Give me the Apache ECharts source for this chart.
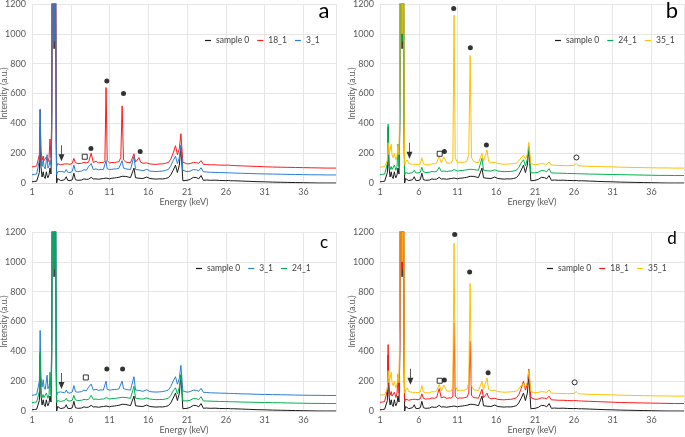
<!DOCTYPE html>
<html>
<head>
<meta charset="utf-8">
<script src="https://cdn.jsdelivr.net/npm/echarts@6/dist/echarts.min.js"></script>
<style>
html, body { margin: 0; padding: 0; background: #fff; }
#chart { width: 685px; height: 437px; }
</style>
</head>
<body>
<div id="chart"></div>
<script>
// energy grid (keV), shared by all spectra
const energy = [1.0, 1.3, 1.6, 1.8, 1.95, 2.05, 2.15, 2.3, 2.45, 2.55, 2.7, 2.85, 2.95, 3.05, 3.2, 3.32, 3.45, 3.55, 3.69, 3.85,
  4.01, 4.12, 4.18, 4.3, 4.5, 4.7, 4.95, 5.2, 5.42, 5.6, 5.9, 6.2, 6.4, 6.6, 6.9, 7.1, 7.4, 7.7, 8.0, 8.3,
  8.63, 8.9, 9.25, 9.6, 9.9, 10.2, 10.4, 10.55, 10.7, 11.0, 11.3, 11.6, 11.9, 12.2, 12.45, 12.62, 12.8, 13.1, 13.4, 13.7,
  13.95, 14.15, 14.35, 14.6, 14.8, 15.0, 15.3, 15.8, 16.2, 16.6, 17.0, 17.4, 17.8, 18.2, 18.6, 18.9, 19.2, 19.5, 19.75, 20.0,
  20.2, 20.45, 20.7, 21.0, 21.4, 21.8, 22.2, 22.5, 22.8, 23.1, 23.5, 24.0, 24.6, 25.2, 26.0, 26.3, 26.6, 27.0, 28.0, 29.0,
  30.0, 31.0, 32.0, 33.0, 34.0, 35.0, 36.0, 37.0, 38.0, 39.0, 40.2];

// spectra without the stacking offset
const sample0 = [8, 10, 12, 20, 70, 375, 110, 40, 75, 45, 30, 75, 50, 35, 55, 100, 60, 350, 3000, 900,
  2000, 250, 0, 30, 22, 16, 14, 22, 42, 18, 16, 22, 65, 22, 18, 24, 20, 28, 24, 26,
  38, 27, 28, 25, 28, 30, 29, 33, 30, 28, 32, 33, 36, 38, 42, 45, 42, 44, 40, 36,
  40, 100, 35, 30, 32, 28, 30, 40, 30, 28, 26, 28, 27, 30, 36, 55, 85, 120, 70, 120,
  240, 15, 16, 18, 24, 38, 36, 28, 50, 18, 20, 18, 19, 17, 16, 17, 15, 15, 13, 11,
  9, 8, 6, 5, 4, 3, 2, 1, 0, 0, 0];
const s18_1 = [8, 10, 14, 20, 90, 395, 120, 55, 80, 50, 45, 75, 60, 40, 70, 195, 70, 400, 3000, 900,
  2000, 300, 10, 30, 25, 22, 30, 28, 40, 28, 25, 32, 65, 35, 30, 38, 32, 38, 35, 40,
  100, 38, 45, 35, 38, 36, 50, 540, 50, 34, 38, 36, 40, 42, 70, 417, 55, 40, 38, 36,
  40, 96, 40, 45, 70, 40, 32, 35, 28, 26, 25, 27, 28, 32, 38, 60, 100, 150, 90, 130,
  230, 40, 32, 28, 30, 38, 36, 32, 50, 25, 24, 22, 22, 20, 19, 20, 18, 17, 15, 13,
  11, 9, 7, 6, 5, 4, 3, 2, 1, 0, 0];
const s3_1 = [5, 8, 10, 15, 100, 440, 130, 60, 110, 60, 45, 100, 140, 50, 65, 105, 70, 400, 3000, 900,
  2000, 300, 5, 25, 20, 28, 18, 22, 40, 22, 20, 28, 70, 30, 26, 38, 30, 40, 35, 60,
  80, 40, 45, 38, 42, 40, 48, 100, 45, 40, 42, 44, 45, 48, 52, 100, 50, 45, 42, 40,
  45, 130, 40, 35, 38, 34, 32, 42, 30, 28, 27, 28, 30, 34, 42, 65, 100, 130, 80, 120,
  206, 35, 28, 26, 30, 40, 38, 32, 52, 25, 24, 22, 21, 20, 19, 18, 18, 17, 15, 14,
  12, 11, 10, 9, 8, 7, 6, 5, 5, 4, 4];
const s24_1 = [6, 8, 10, 15, 80, 345, 100, 40, 60, 40, 35, 70, 55, 35, 60, 210, 60, 400, 3000, 900,
  2000, 300, 5, 20, 18, 14, 15, 20, 35, 18, 17, 22, 55, 24, 20, 26, 22, 28, 25, 28,
  55, 28, 30, 27, 30, 30, 32, 40, 32, 30, 33, 34, 36, 38, 40, 42, 40, 40, 38, 35,
  40, 117, 36, 30, 32, 29, 30, 38, 30, 28, 26, 27, 27, 30, 36, 55, 85, 106, 65, 110,
  195, 18, 17, 18, 22, 34, 32, 26, 46, 17, 17, 16, 15, 14, 13, 13, 12, 12, 10, 9,
  8, 7, 6, 5, 4, 3, 2, 1, 1, 0, 0];
const s35_1 = [5, 8, 10, 15, 50, 170, 90, 120, 160, 90, 70, 100, 75, 55, 80, 150, 90, 500, 3000, 900,
  2000, 350, 20, 40, 55, 30, 28, 25, 35, 25, 22, 28, 70, 28, 22, 25, 22, 30, 28, 35,
  78, 35, 75, 35, 32, 35, 60, 1025, 70, 35, 40, 38, 40, 45, 90, 755, 70, 42, 40, 36,
  42, 100, 45, 50, 122, 45, 35, 40, 30, 28, 26, 27, 28, 30, 34, 48, 70, 85, 60, 95,
  172, 30, 25, 22, 25, 30, 28, 25, 42, 20, 19, 18, 17, 16, 18, 30, 16, 14, 12, 10,
  9, 8, 6, 5, 4, 3, 2, 1, 1, 0, 0];

// vertical shift of each spectrum within its panel (same order as the legend)
const offsetsA = [0, 100, 50];
const offsetsB = [0, 50, 100];
const offsetsC = [0, 100, 50];
const offsetsD = [0, 50, 100];

// annotation symbols [keV, intensity]
const dotsA = [[8.6, 231], [10.65, 684], [12.8, 600], [14.95, 211]];
const dotsB = [[10.5, 1170], [12.65, 907], [14.72, 254], [9.3, 211]];
const dotsC = [[10.65, 281], [12.68, 281]];
const dotsD = [[10.63, 1184], [12.56, 932], [14.94, 256], [9.3, 207]];
const squaresA = [[7.8, 176]];
const squaresB = [[8.7, 196]];
const squaresC = [[7.94, 225]];
const squaresD = [[8.7, 203]];
const arrowsA = [[4.8, 200]];
const arrowsB = [[4.8, 217]];
const arrowsC = [[4.8, 201]];
const arrowsD = [[4.92, 230]];
const circlesB = [[26.33, 171]];
const circlesD = [[26.1, 192]];

const spectra = {
  'sample 0': { data: sample0, color: '#1a1a1a' },
  '18_1': { data: s18_1, color: '#ff1a1a' },
  '3_1': { data: s3_1, color: '#2a7fd0' },
  '24_1': { data: s24_1, color: '#00b050' },
  '35_1': { data: s35_1, color: '#ffc000' }
};

const panels = [
  { letter: 'a', letterSize: 22, names: ['sample 0', '18_1', '3_1'], offsets: offsetsA,
    dots: dotsA, squares: squaresA, arrows: arrowsA, circles: [],
    grid: { left: 32, top: 4 }, legendLeft: 205, letterPos: [324, 11] },
  { letter: 'b', letterSize: 22, names: ['sample 0', '24_1', '35_1'], offsets: offsetsB,
    dots: dotsB, squares: squaresB, arrows: arrowsB, circles: circlesB,
    grid: { left: 380, top: 4 }, legendLeft: 555, letterPos: [672, 11] },
  { letter: 'c', letterSize: 17, names: ['sample 0', '3_1', '24_1'], offsets: offsetsC,
    dots: dotsC, squares: squaresC, arrows: arrowsC, circles: [],
    grid: { left: 32, top: 232 }, legendLeft: 196, letterPos: [324, 243] },
  { letter: 'd', letterSize: 17, names: ['sample 0', '18_1', '35_1'], offsets: offsetsD,
    dots: dotsD, squares: squaresD, arrows: arrowsD, circles: circlesD,
    grid: { left: 380, top: 232 }, legendLeft: 547, letterPos: [672, 239] }
];

const FONT = 'Lato, "Liberation Sans", sans-serif';
const arrowPath = 'path://M2.6,0 L3.4,0 L3.4,9 L6,9 L3,16 L0,9 L2.6,9 Z';

let grids = [], xAxes = [], yAxes = [], series = [], legends = [], graphics = [];

panels.forEach(function (p, i) {
  grids.push({ left: p.grid.left, top: p.grid.top, width: 304, height: 179, containLabel: false, outerBoundsMode: 'none' });
  xAxes.push({
    gridIndex: i, type: 'value', min: 1, max: 40.2, interval: 5,
    name: 'Energy (keV)', nameLocation: 'middle', nameGap: 15, nameMoveOverlap: false,
    nameTextStyle: { fontSize: 9, color: '#595959', fontFamily: FONT },
    axisLine: { show: true, lineStyle: { color: '#d9d9d9' } },
    axisTick: { show: false },
    axisLabel: { fontSize: 9, color: '#595959', margin: 5, fontFamily: FONT, showMaxLabel: false },
    splitLine: { show: true, lineStyle: { color: '#e6e6e6', width: 1 } }
  });
  yAxes.push({
    gridIndex: i, type: 'value', min: 0, max: 1200, interval: 200,
    name: 'Intensity (a.u.)', nameLocation: 'middle', nameGap: 23, nameMoveOverlap: false,
    nameTextStyle: { fontSize: 8.5, color: '#595959', fontFamily: FONT },
    axisLine: { show: false }, axisTick: { show: false },
    axisLabel: { fontSize: 9, color: '#595959', margin: 6, fontFamily: FONT,
      formatter: function (v) { return String(v); } },
    splitLine: { show: true, lineStyle: { color: '#e6e6e6', width: 1 } }
  });
  p.names.forEach(function (name, k) {
    const sp = spectra[name];
    const off = p.offsets[k];
    series.push({
      name: name, type: 'line', xAxisIndex: i, yAxisIndex: i,
      showSymbol: false, symbol: 'none', silent: true, clip: true,
      lineStyle: { width: 1, color: sp.color },
      itemStyle: { color: sp.color },
      data: energy.map(function (e, j) { return [e, sp.data[j] + off]; })
    });
  });
  series.push({
    name: 'dots' + i, type: 'scatter', xAxisIndex: i, yAxisIndex: i, silent: true,
    symbol: 'circle', symbolSize: 5, itemStyle: { color: '#000' }, data: p.dots, z: 5
  });
  series.push({
    name: 'squares' + i, type: 'scatter', xAxisIndex: i, yAxisIndex: i, silent: true,
    symbol: 'rect', symbolSize: 5, itemStyle: { color: '#fff', borderColor: '#000', borderWidth: 1 }, data: p.squares, z: 5
  });
  series.push({
    name: 'circles' + i, type: 'scatter', xAxisIndex: i, yAxisIndex: i, silent: true,
    symbol: 'circle', symbolSize: 5, itemStyle: { color: '#fff', borderColor: '#000', borderWidth: 1 }, data: p.circles, z: 5
  });
  series.push({
    name: 'arrows' + i, type: 'scatter', xAxisIndex: i, yAxisIndex: i, silent: true,
    symbol: arrowPath, symbolSize: [6, 16], itemStyle: { color: '#000' }, data: p.arrows, z: 5
  });
  legends.push({
    data: p.names, left: p.legendLeft, top: p.grid.top + 32, orient: 'horizontal',
    icon: 'rect', itemWidth: 6, itemHeight: 1.2, itemGap: 8, padding: 0,
    textStyle: { fontSize: 8.5, color: '#404040', fontFamily: FONT }
  });
  graphics.push({
    type: 'text', x: p.letterPos[0], y: p.letterPos[1], z: 100,
    style: { text: p.letter, fontSize: p.letterSize, fill: '#000', fontFamily: FONT, textAlign: 'center', textVerticalAlign: 'middle' }
  });
});

const chart = echarts.init(document.getElementById('chart'));
chart.setOption({
  animation: false,
  grid: grids,
  xAxis: xAxes,
  yAxis: yAxes,
  legend: legends,
  graphic: graphics,
  series: series
});
</script>
</body>
</html>
